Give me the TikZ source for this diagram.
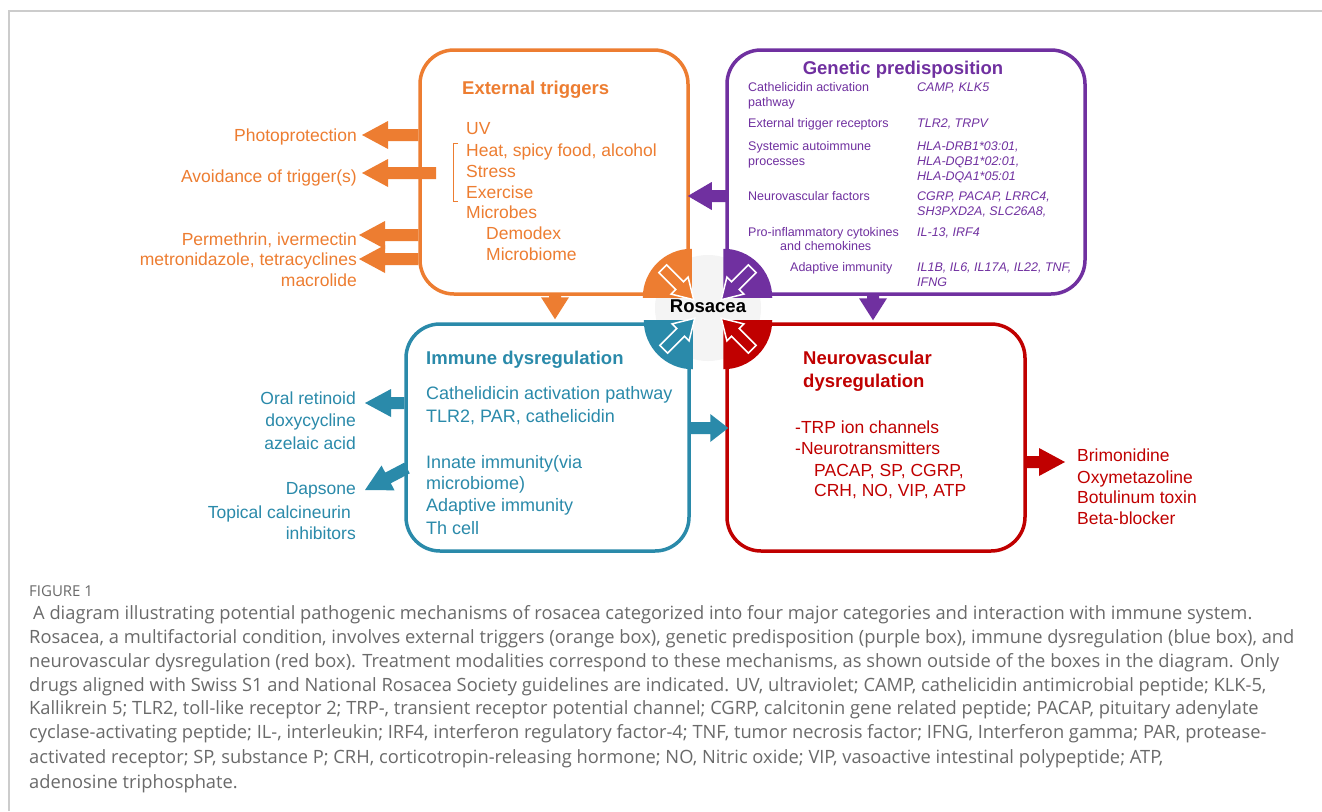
\documentclass[tikz,border=0pt]{standalone}
\usepackage{fontspec}
\setmainfont{Liberation Sans}
\newfontfamily\capfont{Open Sans}
\usetikzlibrary{calc}
\definecolor{cOr}{HTML}{ED7D31}
\definecolor{cPu}{HTML}{7030A0}
\definecolor{cBl}{HTML}{2A8AAA}
\definecolor{cRe}{HTML}{C00000}
\definecolor{cCirc}{HTML}{F4F4F4}
\definecolor{cFrame}{HTML}{CCCCCC}
\definecolor{cCap}{HTML}{6A6A6A}
% #1 style, #2 start, #3 tip, #4 head length, #5 head half width, #6 shaft half width
\newcommand\fatarrow[6]{%
 \path[#1] let \p1=(#2), \p2=(#3), \n1={atan2(\y2-\y1,\x2-\x1)} in
  ($(\p1)+(\n1+90:#6)$) -- ($(\p2)+(\n1+180:#4)+(\n1+90:#6)$) -- ($(\p2)+(\n1+180:#4)+(\n1+90:#5)$)
  -- (\p2) -- ($(\p2)+(\n1+180:#4)+(\n1-90:#5)$) -- ($(\p2)+(\n1+180:#4)+(\n1-90:#6)$)
  -- ($(\p1)+(\n1-90:#6)$) -- cycle;}
\tikzset{
  box/.style={rectangle, draw=#1, line width=3.5pt, rounded corners=34pt, fill=white, inner sep=0pt},
  ttl/.style={text=#1, font=\fontsize{18.5}{22}\selectfont\bfseries, inner sep=0pt, anchor=base west},
  bodyt/.style={text=#1, font=\fontsize{17.5}{21}\selectfont, inner sep=0pt, anchor=base west},
  bluet/.style={text=cBl, font=\fontsize{18}{22}\selectfont, inner sep=0pt, anchor=base west},
  treat/.style={text=#1, font=\fontsize{17.5}{21}\selectfont, inner sep=0pt, anchor=base east},
  gl/.style={text=cPu, font=\fontsize{12.5}{15}\selectfont, inner sep=0pt, anchor=base west},
  gv/.style={text=cPu, font=\fontsize{12.5}{15}\selectfont\itshape, inner sep=0pt, anchor=base west},
  capt/.style={text=cCap, font=\capfont\fontsize{18.3}{24}\selectfont, inner sep=0pt, anchor=base west},
}
\begin{document}
\begin{tikzpicture}[x=1pt,y=-1pt]
\useasboundingbox (0,0) rectangle (1322,811);
\fill[white] (0,0) rectangle (1322,811);
\draw[cFrame, line width=1.3pt] (9,811) -- (9,11) -- (1322,11);

% centre circle
\node[circle, fill=cCirc, minimum size=106pt, inner sep=0pt] (circ) at (708,308) {};

% boxes
\node[box=cOr, minimum width=268pt, minimum height=244pt] (ext) at (554,172) {};
\node[box=cPu, minimum width=358pt, minimum height=244pt] (gen) at (906,172) {};
\node[box=cBl, minimum width=283pt, minimum height=227pt] (imm) at (547.5,437.5) {};
\node[box=cRe, minimum width=298pt, minimum height=227pt] (neu) at (876,437.5) {};

% quarter discs at inner corners
\begin{scope}\clip ($(ext.south east)+(-48,-48)$) rectangle ($(ext.south east)+(2,2)$);
 \fill[cOr] ($(ext.south east)+(2,2)$) circle (49pt);\end{scope}
\begin{scope}\clip ($(gen.south west)+(-2,-48)$) rectangle ($(gen.south west)+(48,2)$);
 \fill[cPu] ($(gen.south west)+(-2,2)$) circle (49pt);\end{scope}
\begin{scope}\clip ($(imm.north east)+(-48,-2)$) rectangle ($(imm.north east)+(2,48)$);
 \fill[cBl] ($(imm.north east)+(2,-2)$) circle (49pt);\end{scope}
\begin{scope}\clip ($(neu.north west)+(-2,-2)$) rectangle ($(neu.north west)+(48,48)$);
 \fill[cRe] ($(neu.north west)+(-2,-2)$) circle (49pt);\end{scope}

% converging arrows into the centre
\coordinate (oa) at ($(ext.south east)+(-27,-27)$); \coordinate (ot) at ($(ext.south east)+(4,4)$);
\coordinate (pa) at ($(gen.south west)+(27,-27)$);  \coordinate (pt) at ($(gen.south west)+(-4,4)$);
\coordinate (ba) at ($(imm.north east)+(-27,27)$);  \coordinate (bt) at ($(imm.north east)+(4,-4)$);
\coordinate (ra) at ($(neu.north west)+(27,27)$);   \coordinate (rt) at ($(neu.north west)+(-4,-4)$);
\fatarrow{fill=cOr, draw=white, line width=1.5pt}{oa}{ot}{20pt}{12pt}{5.5pt}
\fatarrow{fill=cPu, draw=white, line width=1.5pt}{pa}{pt}{20pt}{12pt}{5.5pt}
\fatarrow{fill=cBl, draw=white, line width=1.5pt}{ba}{bt}{20pt}{12pt}{5.5pt}
\fatarrow{fill=cRe, draw=white, line width=1.5pt}{ra}{rt}{20pt}{12pt}{5.5pt}

\node[font=\fontsize{18.5}{22}\selectfont\bfseries, inner sep=0pt, anchor=base] (ros) at (708,312) {Rosacea};

% ---- External triggers
\node[ttl=cOr] (extT) at (462,94.5) {External triggers};
\node[bodyt=cOr] (e1) at (466,134) {UV};
\node[bodyt=cOr] (e2) at (466,156) {Heat, spicy food, alcohol};
\node[bodyt=cOr] (e3) at (466,177) {Stress};
\node[bodyt=cOr] (e4) at (466,198) {Exercise};
\node[bodyt=cOr] (e5) at (466,218) {Microbes};
\node[bodyt=cOr] (e6) at (486,239) {Demodex};
\node[bodyt=cOr] (e7) at (486,260) {Microbiome};
\draw[cOr, line width=1pt] (458,143) -- (453,143) -- (453,201) -- (458,201);

\node[treat=cOr] (t1) at (357,141) {Photoprotection};
\node[treat=cOr] (t2) at (357,182) {Avoidance of trigger(s)};
\node[treat=cOr] (t3) at (357,245) {Permethrin, ivermectin};
\node[treat=cOr] (t4) at (357,265) {metronidazole, tetracyclines};
\node[treat=cOr] (t5) at (357,286) {macrolide};
\coordinate (tip1) at (362,135);
\coordinate (av0) at (436,173); \coordinate (tip2) at (362,173);
\coordinate (tip3) at (359,235);
\coordinate (tip4) at (359,259);
\fatarrow{fill=cOr}{ext.west |- tip1}{tip1}{26pt}{14pt}{6pt}
\fatarrow{fill=cOr}{av0}{tip2}{26pt}{14pt}{6pt}
\fatarrow{fill=cOr}{ext.west |- tip3}{tip3}{26pt}{14pt}{6pt}
\fatarrow{fill=cOr}{ext.west |- tip4}{tip4}{26pt}{14pt}{6pt}
\coordinate (odx) at (555,0);
\fatarrow{fill=cOr}{ext.south -| odx}{$(imm.north -| odx)+(0,-3)$}{22pt}{14pt}{6pt}

% ---- Genetic predisposition
\node[ttl=cPu, anchor=base] (genT) at (903,74) {Genetic predisposition};
\node[gl] (g1a) at (748,91.5) {Cathelicidin activation};
\node[gl] (g1b) at (748,106.5) {pathway};
\node[gv] (v1) at (917,91.5) {CAMP, KLK5};
\node[gl] (g2) at (748,127.5) {External trigger receptors};
\node[gv] (v2) at (917,127.5) {TLR2, TRPV};
\node[gl] (g3a) at (748,150.5) {Systemic autoimmune};
\node[gl] (g3b) at (748,165.5) {processes};
\node[gv] (v3a) at (917,150.5) {HLA-DRB1*03:01,};
\node[gv] (v3b) at (917,165.5) {HLA-DQB1*02:01,};
\node[gv] (v3c) at (917,180.5) {HLA-DQA1*05:01};
\node[gl] (g4) at (748,200.5) {Neurovascular factors};
\node[gv] (v4a) at (917,200.5) {CGRP, PACAP, LRRC4,};
\node[gv] (v4b) at (917,215.5) {SH3PXD2A, SLC26A8,};
\node[gl] (g5a) at (748,236) {Pro-inflammatory cytokines};
\node[gl] (g5b) at (780,250.5) {and chemokines};
\node[gv] (v5) at (917,236) {IL-13, IRF4};
\node[gl] (g6) at (790,271.5) {Adaptive immunity};
\node[gv] (v6a) at (917,271.5) {IL1B, IL6, IL17A, IL22, TNF,};
\node[gv] (v6b) at (917,286) {IFNG};
\coordinate (pl) at (727,196);
\fatarrow{fill=cPu}{pl}{$(ext.east |- pl)+(-2,0)$}{24pt}{14pt}{6pt}
\coordinate (pdx) at (873,0);
\fatarrow{fill=cPu}{gen.south -| pdx}{$(neu.north -| pdx)+(0,-2)$}{22pt}{14pt}{6pt}

% ---- Immune dysregulation
\node[ttl=cBl] (immT) at (426,364) {Immune dysregulation};
\node[bluet] (i1) at (426,399) {Cathelidicin activation pathway};
\node[bluet] (i2) at (426,422) {TLR2, PAR, cathelicidin};
\node[bluet] (i3) at (426,468) {Innate immunity(via};
\node[bluet] (i4) at (426,489) {microbiome)};
\node[bluet] (i5) at (426,511) {Adaptive immunity};
\node[bluet] (i6) at (426,534) {Th cell};
\node[treat=cBl] (b1) at (356,404) {Oral retinoid};
\node[treat=cBl] (b2) at (356,426) {doxycycline};
\node[treat=cBl] (b3) at (356,449) {azelaic acid};
\node[treat=cBl] (b4) at (356,494) {Dapsone};
\node[treat=cBl] (b5) at (351,518) {Topical calcineurin};
\node[treat=cBl] (b6) at (356,539) {inhibitors};
\coordinate (bl1) at (365,403);
\fatarrow{fill=cBl}{imm.west |- bl1}{bl1}{26pt}{14pt}{6pt}
\coordinate (bd0) at (407,468); \coordinate (bd1) at (365,490);
\fatarrow{fill=cBl}{bd0}{bd1}{26pt}{14pt}{6pt}
\coordinate (br) at (689,428);
\fatarrow{fill=cBl}{br}{$(neu.west |- br)+(3,0)$}{18pt}{14pt}{6pt}

% ---- Neurovascular dysregulation
\node[ttl=cRe] (neuT1) at (803,364.5) {Neurovascular};
\node[ttl=cRe] (neuT2) at (803,387.5) {dysregulation};
\node[bodyt=cRe] (n1) at (795,433) {-TRP ion channels};
\node[bodyt=cRe] (n2) at (795,454) {-Neurotransmitters};
\node[bodyt=cRe] (n3) at (814,476) {PACAP, SP, CGRP,};
\node[bodyt=cRe] (n4) at (814,496) {CRH, NO, VIP, ATP};
\node[bodyt=cRe] (r1) at (1077,461) {Brimonidine};
\node[bodyt=cRe] (r2) at (1077,483) {Oxymetazoline};
\node[bodyt=cRe] (r3) at (1077,503) {Botulinum toxin};
\node[bodyt=cRe] (r4) at (1077,524) {Beta-blocker};
\coordinate (rr) at (1065,462);
\fatarrow{fill=cRe}{neu.east |- rr}{rr}{26pt}{14pt}{6pt}

% ---- caption
\node[capt, font=\capfont\fontsize{15}{18}\selectfont] (fig) at (29,596.5) {FIGURE 1};
\node[capt] (c1) at (29,619.5) {\hspace{4pt}A diagram illustrating potential pathogenic mechanisms of rosacea categorized into four major categories and interaction with immune system.};
\node[capt] (c2) at (29,643.5) {Rosacea, a multifactorial condition, involves external triggers (orange box), genetic predisposition (purple box), immune dysregulation (blue box), and};
\node[capt] (c3) at (29,667) {neurovascular dysregulation (red box). Treatment modalities correspond to these mechanisms, as shown outside of the boxes in the diagram. Only};
\node[capt] (c4) at (29,691) {drugs aligned with Swiss S1 and National Rosacea Society guidelines are indicated. UV, ultraviolet; CAMP, cathelicidin antimicrobial peptide; KLK-5,};
\node[capt] (c5) at (29,714.5) {Kallikrein 5; TLR2, toll-like receptor 2; TRP-, transient receptor potential channel; CGRP, calcitonin gene related peptide; PACAP, pituitary adenylate};
\node[capt] (c6) at (29,738.5) {cyclase-activating peptide; IL-, interleukin; IRF4, interferon regulatory factor-4; TNF, tumor necrosis factor; IFNG, Interferon gamma; PAR, protease-};
\node[capt] (c7) at (29,763) {activated receptor; SP, substance P; CRH, corticotropin-releasing hormone; NO, Nitric oxide; VIP, vasoactive intestinal polypeptide; ATP,};
\node[capt] (c8) at (29,788) {adenosine triphosphate.};
\end{tikzpicture}
\end{document}
